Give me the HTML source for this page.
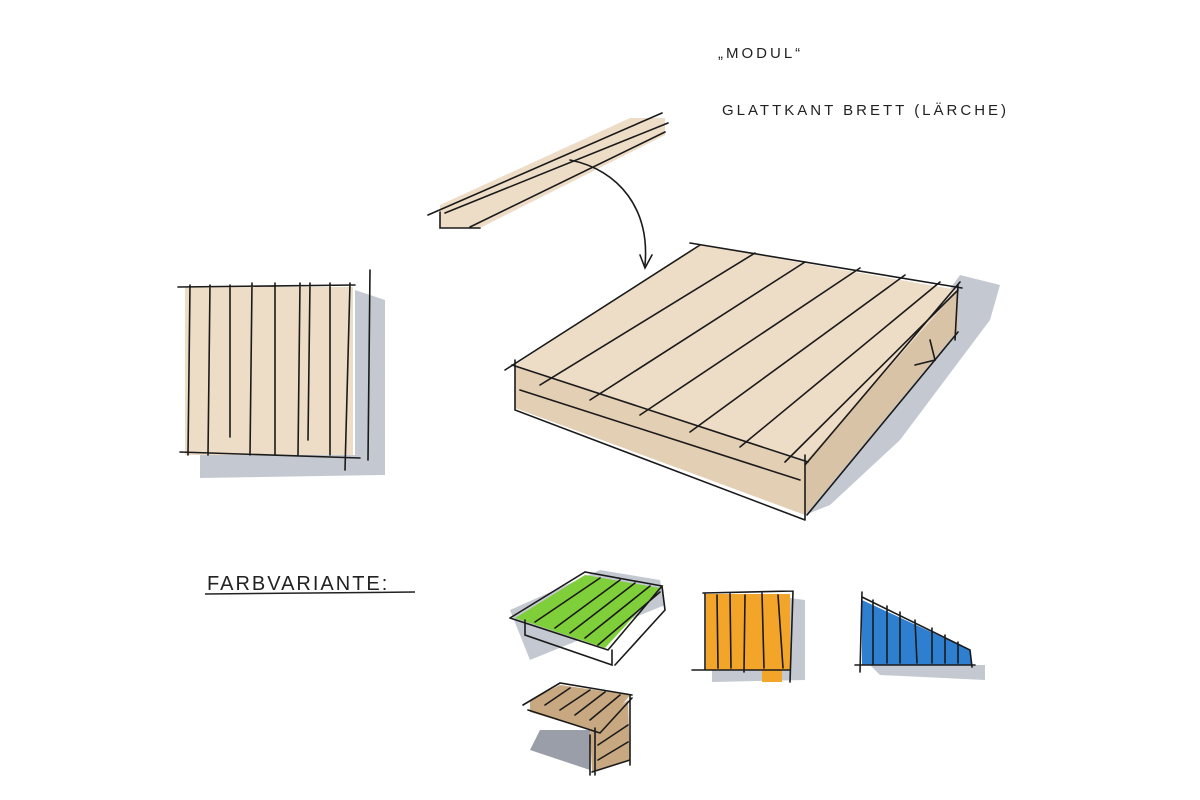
<!DOCTYPE html>
<html><head><meta charset="utf-8"><style>html,body{margin:0;padding:0;background:#fff}svg{display:block}</style></head>
<body>
<svg width="1200" height="800" viewBox="0 0 1200 800" xmlns="http://www.w3.org/2000/svg">
<rect width="1200" height="800" fill="#fff"/>
<g font-family="Liberation Sans, sans-serif" fill="#222" font-size="15" letter-spacing="3">
<text x="718" y="58">„MODUL“</text>
<text x="722" y="115">GLATTKANT BRETT  (LÄRCHE)</text>
<text x="207" y="590" font-size="20" letter-spacing="2">FARBVARIANTE:</text>
</g>
<line x1="205" y1="594" x2="415" y2="592" stroke="#222" stroke-width="1.5"/>
<g stroke="#1a1a1a" stroke-width="1.6" fill="none" stroke-linecap="round">
<!-- board -->
<polygon points="440,205 630,118 665,118 665,135 480,228 440,228" fill="#eddcc6" stroke="none"/>
<path d="M428,215 L662,113 M445,213 L668,123 M440,212 L440,228 L480,228 M470,227 L665,132"/>
<path d="M570,160 C620,170 650,210 645,265"/>
<path d="M640,255 L645,268 L652,255"/>
<!-- left square shadow -->
<polygon points="355,290 385,300 385,475 200,478 200,455 355,455" fill="#c4c8d0" stroke="none"/>
<rect x="185" y="287" width="168" height="168" fill="#eddcc6" stroke="none"/>
<path d="M178,287 L355,285 M180,452 L360,458 M190,285 L188,455 M210,285 L208,455 M230,285 L230,437 M252,283 L250,455 M275,283 L275,455 M300,283 L298,455 M310,283 L308,440 M330,283 L330,455 M350,283 L345,470 M370,270 L368,460"/>
<!-- big deck shadow -->
<polygon points="960,275 1000,285 990,320 900,440 830,505 805,515 820,470" fill="#c4c8d0" stroke="none"/>
<!-- big deck faces -->
<polygon points="515,365 700,245 958,290 805,462" fill="#eddcc6" stroke="none"/>
<polygon points="515,365 805,462 805,515 515,408" fill="#e3cfb4" stroke="none"/>
<polygon points="805,462 958,290 958,330 805,515" fill="#d9c3a6" stroke="none"/>
<path d="M505,370 L700,245 M690,243 L962,288 M512,365 L808,462 M960,282 L805,465 M515,360 L515,410 L805,520 M805,455 L805,520 M958,285 L955,340 M807,515 L958,332 M520,390 L800,480"/>
<path d="M540,385 L755,253 M590,400 L805,262 M640,415 L860,268 M690,432 L905,275 M740,447 L940,282 M785,462 L958,290"/>
<path d="M930,340 L935,360 L915,365"/>
<!-- green -->
<polygon points="530,660 665,605 660,580 600,570 510,610" fill="#c4c8d0" stroke="none"/>
<polygon points="515,618 585,575 660,588 605,648" fill="#7fcf3a" stroke="none"/>
<path d="M510,618 L585,572 L662,586 L608,650 L510,618 M525,620 L525,635 L612,665 L612,650 M662,586 L665,610 L615,665 M535,622 L600,578 M555,628 L620,580 M570,633 L635,583 M585,638 L650,586 M598,645 L660,592"/>
<!-- orange -->
<polygon points="790,598 805,600 805,680 712,682 712,668 790,668" fill="#c4c8d0" stroke="none"/>
<rect x="706" y="594" width="84" height="76" fill="#f3a52a" stroke="none"/>
<rect x="762" y="668" width="20" height="14" fill="#f3a52a" stroke="none"/>
<path d="M703,593 L793,591 M692,670 L790,670 M705,593 L705,670 M717,595 L718,668 M730,593 L731,668 M745,595 L744,672 M762,593 L764,668 M778,595 L783,668 M793,591 L790,682"/>
<!-- blue -->
<polygon points="870,665 985,665 985,680 880,675" fill="#c4c8d0" stroke="none"/>
<polygon points="862,600 970,650 972,665 862,665" fill="#2f7fd0" stroke="none"/>
<path d="M862,592 L860,672 M855,665 L975,665 M862,597 L970,650 L972,667 M873,600 L873,665 M887,606 L887,663 M900,612 L900,663 M915,620 L917,663 M932,628 L932,663 M945,635 L945,663 M958,642 L958,663"/>
<!-- brown box -->
<polygon points="540,730 590,730 590,770 530,750" fill="#9a9ea8" stroke="none"/>
<polygon points="530,700 560,685 630,695 600,733 530,712" fill="#c8a881" stroke="none"/>
<polygon points="590,730 628,700 630,760 592,772" fill="#c8a881" stroke="none"/>
<path d="M523,705 L560,683 L632,695 M528,710 L600,733 L632,698 M595,728 L595,775 M590,735 L590,775 M630,695 L630,765 M592,772 L630,760 M545,705 L570,688 M560,710 L590,690 M575,715 L605,692 M590,720 L620,695 M598,745 L628,725 M598,760 L628,742"/>
</g>
</svg>
</body></html>
